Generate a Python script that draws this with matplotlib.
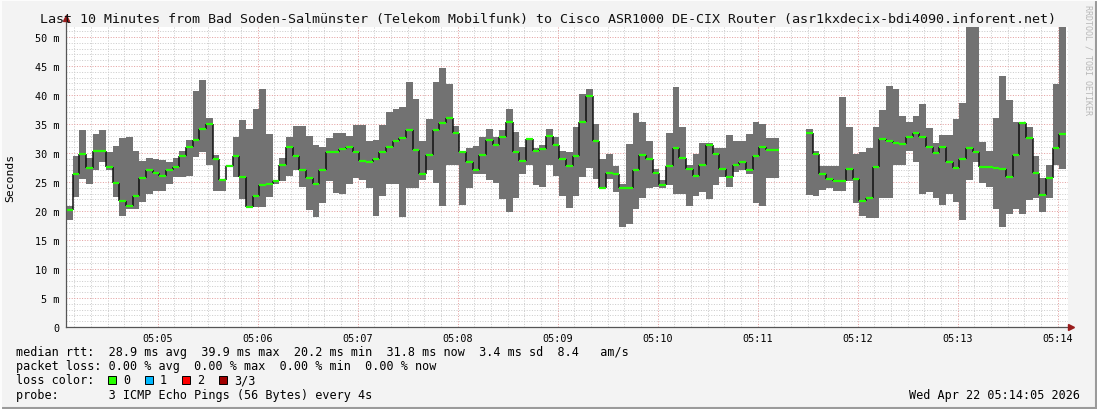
import matplotlib
matplotlib.use('Agg')  # headless
import matplotlib.pyplot as plt
import numpy as np
from matplotlib.patches import Rectangle
from matplotlib.lines import Line2D
from matplotlib.ticker import MultipleLocator, FixedLocator

plt.rcParams['font.family'] = ['DejaVu Sans Mono']

W, H = 1097, 410
start_sec = 5 * 3600 + 4 * 60 + 5   # 05:04:05
step_sec = 4

# median rtt per 4s step (ms), None = no data
median_ms = [
    20.2, 26.3, 29.9, 27.5, 30.4, 30.4, 27.6, 24.9, 21.7, 20.9,
    22.6, 25.7, 27.0, 26.6, 26.0, 27.0, 27.6, 29.4, 31.1, 32.2,
    34.1, 35.0, 29.0, 25.3, 27.8, 29.4, 25.9, 20.7, 22.6, 24.5,
    24.7, 25.1, 28.0, 31.1, 29.5, 27.0, 25.7, 24.7, 27.1, 30.2,
    30.2, 30.7, 31.1, 30.1, 28.7, 28.5, 28.9, 30.2, 31.1, 32.0,
    32.6, 33.9, 30.5, 26.3, 29.7, 34.0, 35.1, 36.0, 33.5, 30.1,
    28.5, 27.1, 29.7, 32.3, 31.3, 32.8, 35.4, 30.1, 28.7, 32.5,
    30.4, 30.7, 32.9, 31.4, 28.9, 27.8, 29.5, 35.4, 39.9, 32.0,
    24.0, 26.6, 26.4, 23.9, 24.0, 27.0, 29.7, 29.0, 26.6, 24.5,
    27.8, 30.9, 29.1, 27.3, 26.0, 28.0, 31.4, 29.9, 27.3, 25.9,
    28.0, 28.5, 27.1, 29.4, 31.1, 30.5, 30.5, None, None, None,
    None, 33.5, 29.8, 26.3, 25.6, 25.1, 25.2, 27.3, 25.6, 21.8,
    22.3, 27.6, 32.5, 32.1, 31.8, 31.6, 32.8, 33.5, 32.8, 31.1,
    30.0, 31.1, 28.5, 27.4, 29.0, 30.9, 30.2, 27.6, 27.6, 27.4,
    27.2, 25.9, 29.7, 35.1, 32.6, 26.6, 22.8, 25.7, 30.9, 33.3,
]
# highest ping per step (ms)
max_ms = [
    20.8, 29.5, 33.9, 29.1, 33.3, 33.9, 30.2, 31.2, 32.6, 32.7,
    30.3, 28.7, 29.1, 29.0, 28.8, 28.5, 29.1, 30.4, 32.2, 40.7,
    42.6, 36.0, 29.6, 25.5, 27.8, 32.7, 35.7, 34.1, 37.6, 41.0,
    33.3, 25.4, 29.1, 32.7, 34.7, 34.7, 32.9, 31.4, 31.0, 32.6,
    33.4, 33.5, 32.9, 34.8, 34.8, 32.1, 32.2, 34.8, 37.0, 37.6,
    37.9, 42.2, 39.3, 32.1, 35.9, 42.2, 44.7, 41.9, 34.7, 30.4,
    30.9, 31.2, 32.8, 34.1, 32.7, 34.0, 37.6, 33.7, 31.0, 32.6,
    30.9, 31.3, 34.1, 32.7, 30.4, 30.2, 34.4, 40.1, 41.0, 35.0,
    29.0, 29.8, 27.8, 24.7, 31.6, 36.9, 35.3, 32.1, 27.2, 25.3,
    33.4, 41.4, 34.4, 27.9, 29.8, 31.8, 31.8, 30.9, 30.9, 33.1,
    32.0, 32.0, 33.3, 35.3, 35.0, 32.6, 32.6, None, None, None,
    None, 34.1, 30.4, 27.8, 27.8, 27.8, 39.7, 34.5, 29.8, 30.2,
    30.9, 34.5, 37.4, 41.6, 41.0, 36.4, 35.3, 36.4, 38.4, 34.3,
    31.7, 33.1, 33.1, 35.9, 38.6, 55.0, 55.0, 31.9, 30.3, 36.0,
    43.2, 39.1, 35.4, 35.4, 34.5, 29.5, 25.7, 28.0, 41.9, 55.0,
]
# lowest ping per step (ms)
min_ms = [
    18.5, 22.5, 25.6, 24.7, 27.1, 28.4, 27.1, 22.5, 19.2, 20.3,
    20.3, 21.6, 22.9, 23.5, 23.5, 24.7, 25.9, 25.9, 26.0, 29.3,
    30.2, 28.0, 23.5, 23.5, 27.8, 25.9, 22.0, 20.6, 20.7, 20.7,
    22.5, 24.7, 25.1, 26.1, 27.1, 24.2, 20.2, 18.9, 21.4, 25.2,
    23.1, 22.9, 24.7, 25.7, 25.4, 23.9, 19.1, 22.6, 24.7, 24.7,
    18.9, 24.0, 24.0, 25.4, 27.1, 24.9, 20.9, 28.0, 28.0, 21.0,
    24.0, 26.3, 26.3, 25.4, 24.9, 22.0, 19.9, 22.2, 26.3, 28.0,
    24.4, 24.2, 28.0, 26.1, 22.6, 20.6, 22.6, 25.9, 27.5, 25.6,
    23.9, 25.5, 23.2, 17.3, 17.8, 20.3, 22.2, 24.0, 24.1, 23.9,
    24.4, 22.9, 22.9, 20.9, 22.6, 23.2, 22.0, 24.4, 25.8, 24.2,
    26.7, 27.1, 26.3, 21.4, 20.9, 25.7, 25.7, None, None, None,
    None, 22.8, 22.6, 23.6, 24.0, 23.5, 23.5, 25.2, 21.4, 19.1,
    18.8, 18.8, 22.2, 22.2, 28.0, 28.0, 30.3, 28.5, 22.9, 23.2,
    22.3, 21.0, 22.9, 21.6, 18.5, 25.4, 28.5, 24.8, 24.2, 20.3,
    17.3, 19.4, 20.3, 19.4, 21.9, 22.2, 19.8, 22.2, 28.0, 27.2,
]

minute_labels = ['05:05', '05:06', '05:07', '05:08', '05:09',
                 '05:10', '05:11', '05:12', '05:13', '05:14']
y_ticks = [0, 5, 10, 15, 20, 25, 30, 35, 40, 45, 50]
y_labels = ['0', '5 m', '10 m', '15 m', '20 m', '25 m', '30 m',
            '35 m', '40 m', '45 m', '50 m']

title = ("Last 10 Minutes from Bad Soden-Salmünster (Telekom Mobilfunk) "
         "to Cisco ASR1000 DE-CIX Router (asr1kxdecix-bdi4090.inforent.net)")
rtt_line = "median rtt:  28.9 ms avg  39.9 ms max  20.2 ms min  31.8 ms now  3.4 ms sd  8.4   am/s"
loss_line = "packet loss: 0.00 % avg  0.00 % max  0.00 % min  0.00 % now"
probe_line = "probe:       3 ICMP Echo Pings (56 Bytes) every 4s"
loss_names = ['0', '1', '2', '3/3']
loss_colors = ['#26ff00', '#00b8ff', '#ff0000', '#a00000']
stamp = "Wed Apr 22 05:14:05 2026"

med = np.array(median_ms, dtype=float)
hi = np.array(max_ms, dtype=float)
lo = np.array(min_ms, dtype=float)
t = start_sec + step_sec * np.arange(len(med))

fig = plt.figure(figsize=(W / 100, H / 100), dpi=100, facecolor='#f3f3f3')
ax = fig.add_axes([66 / W, 82 / H, 1002 / W, 300 / H])
ax.set_facecolor('white')

# smoke band (min..max) and median
ax.bar(t, hi - lo, bottom=lo, width=step_sec, align='edge',
       color='#727272', linewidth=0, zorder=3)
ok = ~np.isnan(med[1:]) & ~np.isnan(med[:-1])
ax.vlines(t[1:][ok], med[:-1][ok], med[1:][ok], color='#111111', lw=1.1, zorder=4)
ax.hlines(med, t, t + step_sec, color='#22ff00', lw=1.6, zorder=5)

ax.set_xlim(start_sec, start_sec + 601.2)
ax.set_ylim(0, 300 / 5.8)

minute_pos = [5 * 3600 + m * 60 for m in range(5, 15)]
ax.xaxis.set_major_locator(FixedLocator(minute_pos))
ax.set_xticklabels(minute_labels)
ax.xaxis.set_minor_locator(MultipleLocator(10))
ax.set_yticks(y_ticks)
ax.set_yticklabels(y_labels)
ax.yaxis.set_minor_locator(MultipleLocator(1))

# dotted rrdtool style grid
ax.grid(which='minor', color='#cccccc', lw=0.72, ls=(0, (1, 1.6)), zorder=1)
ax.grid(which='major', color='#e4a0a0', lw=0.72, ls=(0, (1, 1.6)), zorder=2)
ax.tick_params(which='both', length=0)
ax.tick_params(axis='y', pad=4.5, labelsize=7.3)
ax.tick_params(axis='x', pad=4, labelsize=7.3)
for s in ax.spines.values():
    s.set_visible(False)

# axes with arrows
x_end = start_sec + 603
ax.plot([start_sec, x_end], [0, 0], color='#555555', lw=0.9, clip_on=False, zorder=6)
ax.plot([start_sec, start_sec], [0, 53.3], color='#555555', lw=0.9, clip_on=False, zorder=6)
ax.plot(x_end, 0, marker='>', color='#991c1c', ms=4.5, clip_on=False, zorder=7)
ax.plot(start_sec, 53.3, marker='^', color='#991c1c', ms=4.5, clip_on=False, zorder=7)

fig.text(548 / W, 1 - 19 / H, title, ha='center', va='center', fontsize=9.6, color='#111111')
fig.text(10 / W, 1 - 178 / H, 'Seconds', rotation=90, ha='center', va='center', fontsize=8.2)
fig.text(1088 / W, 1 - 60 / H, 'RRDTOOL / TOBI OETIKER', rotation=270, ha='center',
         va='center', fontsize=6, color='#b8b8b8')

fs = 8.5
fig.text(16 / W, 1 - 353 / H, rtt_line, va='center', fontsize=fs)
fig.text(16 / W, 1 - 367 / H, loss_line, va='center', fontsize=fs)
fig.text(16 / W, 1 - 381 / H, 'loss color:', va='center', fontsize=fs)
fig.text(16 / W, 1 - 396 / H, probe_line, va='center', fontsize=fs)
fig.text(1080 / W, 1 - 396 / H, stamp, ha='right', va='center', fontsize=fs)

for i, (name, c) in enumerate(zip(loss_names, loss_colors)):
    bx = 108 + 37 * i
    fig.add_artist(Rectangle((bx / W, 1 - 385 / H), 8 / W, 8 / H,
                             transform=fig.transFigure, facecolor=c,
                             edgecolor='black', lw=0.7))
    fig.text((bx + 15) / W, 1 - 381 / H, name, va='center', fontsize=fs)

# 3d-ish frame
fig.add_artist(Line2D([0, 1], [1 / H, 1 / H], transform=fig.transFigure, color='#9a9a9a', lw=1.5))
fig.add_artist(Line2D([1 - 1 / W, 1 - 1 / W], [0, 1], transform=fig.transFigure, color='#9a9a9a', lw=1.5))
fig.add_artist(Line2D([0, 1], [1 - 1 / H, 1 - 1 / H], transform=fig.transFigure, color='#fcfcfc', lw=1.5))
fig.add_artist(Line2D([1 / W, 1 / W], [0, 1], transform=fig.transFigure, color='#fcfcfc', lw=1.5))

fig.savefig('out.png', dpi=100, facecolor=fig.get_facecolor())
